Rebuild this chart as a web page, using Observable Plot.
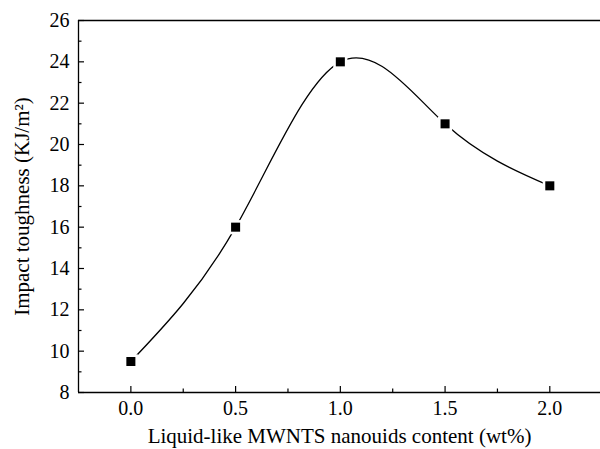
<!DOCTYPE html>
<html>
<head>
<meta charset="utf-8">
<script src="https://cdn.jsdelivr.net/npm/d3@7"></script>
<script src="https://cdn.jsdelivr.net/npm/@observablehq/plot@0.6"></script>
<style>
  html, body { margin: 0; padding: 0; background: #fff; }
  #chart svg { display: block; }
</style>
</head>
<body>
<div id="chart"></div>
<script>
const content = [0.0, 0.5, 1.0, 1.5, 2.0];
const toughness = [9.5, 16, 24, 21, 18];
const xMajorTicks = [0.0, 0.5, 1.0, 1.5, 2.0];
const xMinorTicks = [0.25, 0.75, 1.25, 1.75];
const yMajorTicks = [8, 10, 12, 14, 16, 18, 20, 22, 24, 26];
const yMinorTicks = [9, 11, 13, 15, 17, 19, 21, 23, 25];

const data = content.map((c, i) => ({x: c, y: toughness[i]}));
const font = "'Liberation Serif', 'DejaVu Serif', serif";

const chart = Plot.plot({
  width: 600,
  height: 449,
  marginLeft: 78,
  marginRight: 0,
  marginTop: 20,
  marginBottom: 57,
  style: {fontFamily: font, fontSize: "20px", color: "#000", background: "#fff"},
  x: {domain: [-0.25, 2.242]},
  y: {domain: [8, 26]},
  marks: [
    Plot.ruleY([8, 26], {stroke: "#000", strokeWidth: 1.3}),
    Plot.ruleX([-0.25], {stroke: "#000", strokeWidth: 1.3}),
    Plot.axisX({ticks: xMajorTicks, tickFormat: d3.format(".1f"), tickSize: 0, tickPadding: 8, label: null}),
    Plot.axisX({ticks: [], label: "Liquid-like MWNTS nanouids content (wt%)", labelAnchor: "center", labelArrow: "none", labelOffset: 50, fontSize: 21}),
    Plot.axisX({ticks: xMajorTicks, tickSize: -6, text: null, label: null, strokeWidth: 1.2}),
    Plot.axisX({ticks: xMinorTicks, tickSize: -3.5, text: null, label: null, strokeWidth: 1.2}),
    Plot.axisY({ticks: yMajorTicks, tickSize: 0, tickPadding: 9, label: null}),
    Plot.axisY({ticks: [], label: "Impact toughness (KJ/m²)", labelAnchor: "center", labelArrow: "none", labelOffset: 64, fontSize: 21}),
    Plot.axisY({ticks: yMajorTicks, tickSize: -6, text: null, label: null, strokeWidth: 1.2}),
    Plot.axisY({ticks: yMinorTicks, tickSize: -3.5, text: null, label: null, strokeWidth: 1.2}),
    Plot.line(data, {x: "x", y: "y", curve: "natural", stroke: "#000", strokeWidth: 1.3}),
    Plot.dot(data, {x: "x", y: "y", symbol: "square", r: 8, fill: "#fff", stroke: "none"}),
    Plot.dot(data, {x: "x", y: "y", symbol: "square", r: 5.1, fill: "#000", stroke: "none"})
  ]
});
document.getElementById("chart").appendChild(chart);
</script>
</body>
</html>
